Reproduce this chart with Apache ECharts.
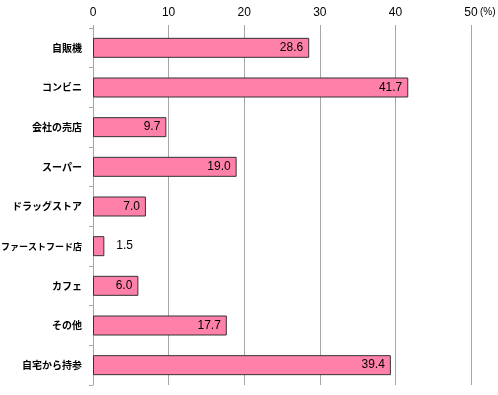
<!DOCTYPE html>
<html>
<head>
<meta charset="utf-8">
<script src="https://cdn.jsdelivr.net/npm/echarts@6/dist/echarts.min.js"></script>
<style>html,body{margin:0;padding:0;background:#fff;}#c{width:498px;height:395px;}</style>
</head>
<body>
<div id="c"></div>
<script>
const categories = ['自販機', 'コンビニ', '会社の売店', 'スーパー', 'ドラッグストア', 'ファーストフード店', 'カフェ', 'その他', '自宅から持参'];
const values = [28.6, 41.7, 9.7, 19.0, 7.0, 1.5, 6.0, 17.7, 39.4];
const xTicks = [0, 10, 20, 30, 40, 50];
const unitLabel = '(%)';

const chart = echarts.init(document.getElementById('c'), null, {renderer: 'canvas'});
const gridColor = '#a6a6a6';
const data = values.map(v => ({
  value: v,
  label: v < 3 ? {position: 'right', distance: 12} : {position: 'insideRight', distance: 6}
}));
const catFont = 'Noto Sans CJK JP, sans-serif';
chart.setOption({
  animation: false,
  backgroundColor: '#ffffff',
  grid: {left: 93, right: 27, top: 28, bottom: 10, containLabel: false, outerBoundsMode: 'none'},
  xAxis: {
    type: 'value',
    position: 'top',
    min: xTicks[0],
    max: xTicks[xTicks.length - 1],
    interval: 10,
    axisLine: {show: false},
    axisTick: {show: true, length: 3, lineStyle: {color: gridColor}},
    splitLine: {show: true, lineStyle: {color: gridColor, width: 1}},
    axisLabel: {margin: 9, color: '#000', fontSize: 12, fontFamily: 'Liberation Sans, Arial, sans-serif'}
  },
  yAxis: {
    type: 'category',
    data: categories,
    inverse: true,
    axisLine: {show: true, lineStyle: {color: gridColor}},
    axisTick: {show: true, length: 4, lineStyle: {color: gridColor}},
    axisLabel: {
      margin: 11, color: '#000', fontSize: 10, fontWeight: 'bold', fontFamily: catFont,
      formatter: v => v.length > 8 ? '{s|' + v + '}' : v,
      rich: {s: {fontSize: 9, fontWeight: 'bold', fontFamily: catFont, color: '#000'}}
    },
    splitLine: {show: false}
  },
  series: [{
    type: 'bar',
    data: data,
    barWidth: 20,
    itemStyle: {color: '#ff80a8', borderColor: '#333333', borderWidth: 1},
    label: {
      show: true,
      color: '#000',
      fontSize: 12,
      fontFamily: 'Liberation Sans, Arial, sans-serif',
      formatter: p => p.value.toFixed(1)
    }
  }],
  graphic: [{
    type: 'text',
    left: 480,
    top: 7,
    style: {text: unitLabel, fontSize: 10, fill: '#000', fontFamily: 'Liberation Sans, Arial, sans-serif'}
  }]
});
</script>
</body>
</html>
